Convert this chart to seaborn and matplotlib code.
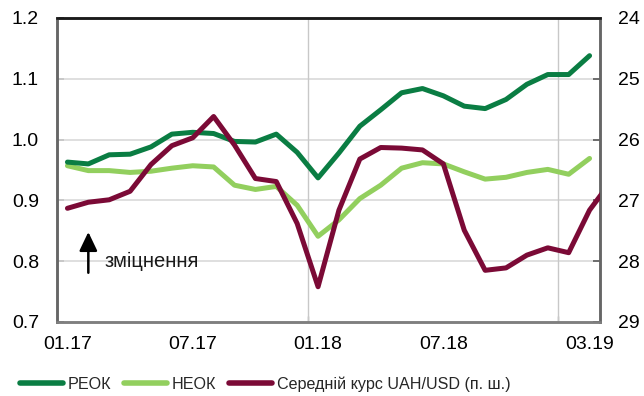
import matplotlib
matplotlib.use("Agg")
import matplotlib.pyplot as plt
import seaborn as sns
import pandas as pd
import numpy as np

# Monthly indices (left axis) and average UAH/USD rate (right axis, inverted)
months = [
    "01.17", "02.17", "03.17", "04.17", "05.17", "06.17", "07.17", "08.17",
    "09.17", "10.17", "11.17", "12.17", "01.18", "02.18", "03.18", "04.18",
    "05.18", "06.18", "07.18", "08.18", "09.18", "10.18", "11.18", "12.18",
    "02.19", "03.19",
]
reer = [0.963, 0.960, 0.975, 0.976, 0.988, 1.009, 1.012, 1.010, 0.997, 0.996,
        1.009, 0.979, 0.937, 0.978, 1.022, 1.049, 1.077, 1.084, 1.072, 1.055,
        1.051, 1.066, 1.091, 1.107, 1.107, 1.138]
neer = [0.957, 0.949, 0.949, 0.946, 0.948, 0.953, 0.957, 0.955, 0.925, 0.918,
        0.923, 0.892, 0.841, 0.868, 0.903, 0.925, 0.953, 0.962, 0.960, 0.947,
        0.935, 0.938, 0.946, 0.951, 0.943, 0.969]
# the rate series runs one month further; that point falls past the frame
uah_usd = [27.13, 27.03, 26.99, 26.85, 26.41, 26.10, 25.97, 25.62, 26.09, 26.64,
           26.69, 27.38, 28.42, 27.16, 26.32, 26.13, 26.14, 26.17, 26.40, 27.49,
           28.15, 28.11, 27.90, 27.78, 27.86, 27.16, 26.70]

tick_labels = ["01.17", "07.17", "01.18", "07.18", "03.19"]
tick_index = [0, 6, 12, 18, 25]

series_names = ["РЕОК", "НЕОК", "Середній курс UAH/USD (п. ш.)"]
colors = ["#0A7D43", "#92CF5E", "#7B0A36"]

sns.set_theme(style="white")
plt.rcParams["font.family"] = ["Liberation Sans", "DejaVu Sans"]
plt.rcParams["font.size"] = 13

idx_df = pd.DataFrame({"i": np.arange(len(reer)), "reer": reer, "neer": neer})
fx_df = pd.DataFrame({"i": np.arange(len(uah_usd)), "fx": uah_usd})

fig = plt.figure(figsize=(6.44, 3.96), dpi=100)
ax = fig.add_axes([57 / 644, 1 - 322 / 396, 543 / 644, 304 / 396])
ax2 = ax.twinx()

lw = 3.6
sns.lineplot(data=idx_df, x="i", y="reer", ax=ax, color=colors[0], lw=lw,
             label=series_names[0], legend=False, zorder=4)
sns.lineplot(data=idx_df, x="i", y="neer", ax=ax, color=colors[1], lw=lw,
             label=series_names[1], legend=False, zorder=3)
sns.lineplot(data=fx_df, x="i", y="fx", ax=ax2, color=colors[2], lw=lw,
             label=series_names[2], legend=False, zorder=5)

ax.set_xlim(-0.5, 25.5)
ax.set_ylim(0.7, 1.2)
ax2.set_ylim(29, 24)
ax.set_xlabel("")
ax.set_ylabel("")
ax2.set_ylabel("")

tick_fs = 14

# horizontal grid
ax.set_yticks([0.7, 0.8, 0.9, 1.0, 1.1, 1.2])
ax.set_yticklabels(["0.7", "0.8", "0.9", "1.0", "1.1", "1.2"])
for v in [0.8, 0.9, 1.0, 1.1]:
    ax.axhline(v, color="#D9D9D9", lw=1.2, zorder=1)
# vertical grid at year boundaries
for b in [11.5, 23.5]:
    ax.axvline(b, color="#C8C8C8", lw=1.0, zorder=1)

ax.set_xticks(tick_index)
ax.set_xticklabels(tick_labels)
ax.tick_params(axis="x", length=0, pad=10, labelsize=tick_fs, colors="#000000")
ax.set_xticks([11.5, 23.5], minor=True)
ax.tick_params(axis="x", which="minor", direction="in", length=4,
               width=1, color="#9A9A9A", bottom=True)
ax.tick_params(axis="y", direction="in", length=5, width=1.2,
               color="#595959", pad=13, labelsize=tick_fs, labelcolor="#000000")
ax.grid(False)
ax2.grid(False)

ax2.set_yticks([24, 25, 26, 27, 28, 29])
ax2.tick_params(axis="y", direction="in", length=5, width=1.2,
                color="#595959", pad=13, labelsize=tick_fs, labelcolor="#000000")

for a in (ax, ax2):
    a.spines["top"].set_color("#1A1A1A")
    a.spines["top"].set_linewidth(1.8)
    a.spines["left"].set_color("#666666")
    a.spines["left"].set_linewidth(1.8)
    a.spines["right"].set_color("#666666")
    a.spines["right"].set_linewidth(1.8)
    a.spines["bottom"].set_color("#7F7F7F")
    a.spines["bottom"].set_linewidth(1.8)
ax2.set_zorder(ax.get_zorder() + 1)
ax2.patch.set_visible(False)

# annotation: upward arrow means appreciation
ax.annotate("", xy=(1.0, 0.848), xytext=(1.0, 0.781),
            arrowprops=dict(arrowstyle="-|>,head_length=0.88,head_width=0.42",
                            color="black", lw=1.8, shrinkA=0, shrinkB=0),
            zorder=6)
ax.text(1.8, 0.80, "зміцнення", fontsize=14.5, va="center", ha="left",
        color="#1A1A1A")

handles = ax.get_lines()[:2] + ax2.get_lines()[:1]
leg = fig.legend(handles, series_names, loc="center left",
                 bbox_to_anchor=(20 / 644, 1 - 384 / 396), ncol=3,
                 frameon=False, fontsize=11.6, handlelength=2.65,
                 handletextpad=0.32, columnspacing=0.8, borderpad=0,
                 borderaxespad=0)
for h in leg.legend_handles:
    h.set_linewidth(4)

fig.savefig("out.png", dpi=100)
